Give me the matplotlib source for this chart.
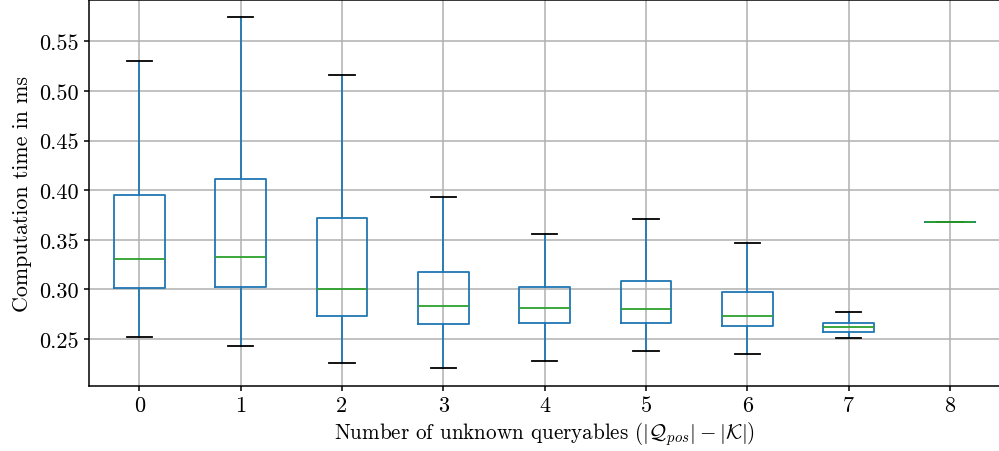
import matplotlib
matplotlib.use("Agg")
import matplotlib.pyplot as plt

# box statistics, one entry per number of unknown queryables
categories = [0, 1, 2, 3, 4, 5, 6, 7, 8]
whisker_low = [0.2520, 0.2429, 0.2255, 0.2205, 0.2275, 0.2379, 0.2346, 0.2513, 0.3681]
q1 = [0.3016, 0.3023, 0.2729, 0.2655, 0.2658, 0.2662, 0.2628, 0.2575, 0.3681]
median = [0.3304, 0.3328, 0.3000, 0.2832, 0.2816, 0.2806, 0.2735, 0.2618, 0.3681]
q3 = [0.3951, 0.4109, 0.3718, 0.3174, 0.3020, 0.3087, 0.2977, 0.2665, 0.3681]
whisker_high = [0.5306, 0.5745, 0.5158, 0.3936, 0.3560, 0.3712, 0.3470, 0.2772, 0.3681]

plt.rcParams['font.family'] = 'serif'
plt.rcParams['font.serif'] = ['cmr10', 'DejaVu Serif']
plt.rcParams['mathtext.fontset'] = 'cm'
plt.rcParams['axes.formatter.use_mathtext'] = True

stats = []
for i, c in enumerate(categories):
    stats.append({
        'label': str(c),
        'whislo': whisker_low[i],
        'q1': q1[i],
        'med': median[i],
        'q3': q3[i],
        'whishi': whisker_high[i],
        'fliers': [],
    })

fig = plt.figure(figsize=(9.99, 4.52), dpi=100)
ax = fig.add_axes([0.0886, 0.1445, 0.9131, 0.854])

lw = 1.3
ax.bxp(stats, positions=range(len(categories)), widths=0.5,
       boxprops=dict(color='C0', linewidth=lw),
       whiskerprops=dict(color='C0', linewidth=lw),
       capprops=dict(color='black', linewidth=lw),
       medianprops=dict(color='C2', linewidth=lw),
       showfliers=False)

ax.set_xlim(-0.5, 8.5)
ax.set_ylim(0.2030, 0.5919)
ax.set_yticks([0.25, 0.30, 0.35, 0.40, 0.45, 0.50, 0.55])
ax.set_yticklabels(['0.25', '0.30', '0.35', '0.40', '0.45', '0.50', '0.55'])
ax.grid(True, color='#b0b0b0', linewidth=1.1)
ax.set_axisbelow(True)
for s in ax.spines.values():
    s.set_linewidth(1.1)
ax.tick_params(labelsize=16, width=1.1)
ax.set_xlabel(r'Number of unknown queryables ($|\mathcal{Q}_{pos}| - |\mathcal{K}|$)', fontsize=15.2, labelpad=3)
ax.set_ylabel('Computation time in ms', fontsize=15.8, labelpad=5)

fig.savefig('out.png', dpi=100)
